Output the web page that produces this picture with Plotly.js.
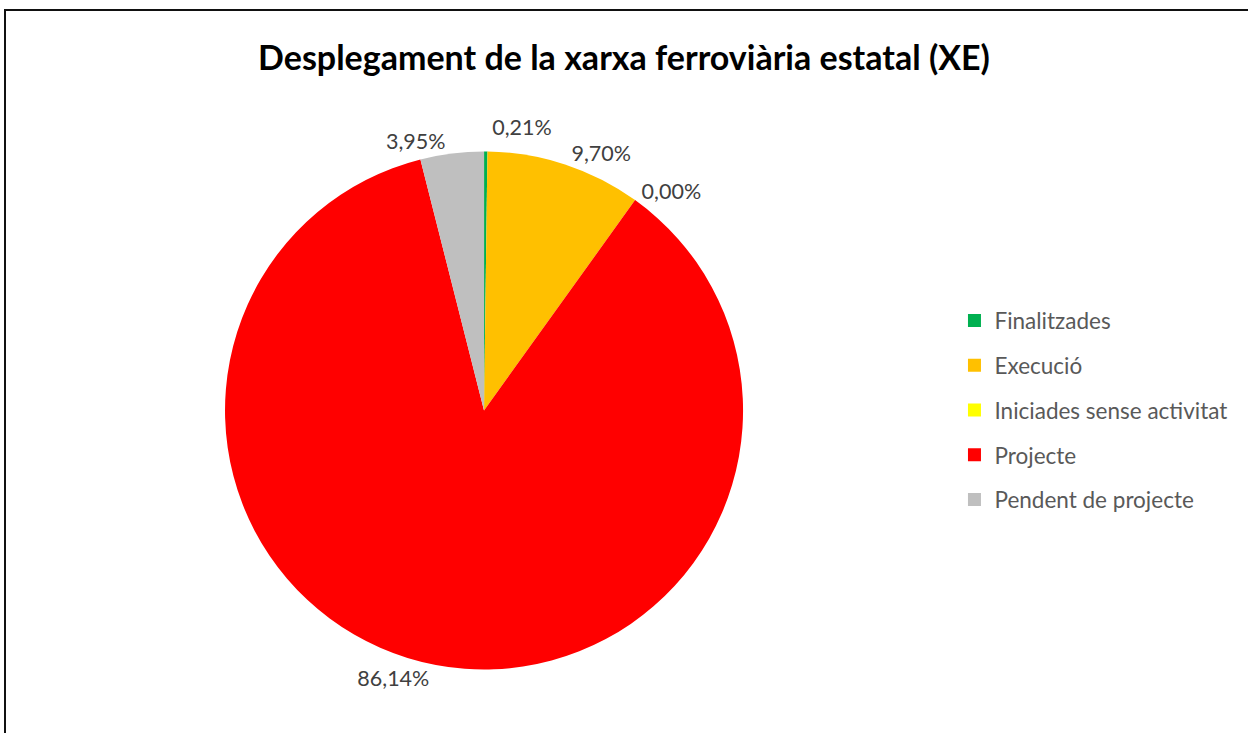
<!DOCTYPE html>
<html>
<head>
<meta charset="utf-8">
<script src="https://cdn.plot.ly/plotly-3.0.1.min.js"></script>
<style>
  body { margin: 0; overflow: hidden; background: #fff; }
  #plot { position: absolute; left: 0; top: 0; width: 1248px; height: 733px; }
  #frame { position: absolute; left: 4px; top: 9px; width: 1400px; height: 900px;
           border: 2px solid #111; pointer-events: none; }
  /* the reference has no leader lines on the outside labels */
  #plot path.textline { display: none; }
</style>
</head>
<body>
<div id="plot"></div>
<div id="frame"></div>
<script>
// Categories and shares (%)
let categories = ["Finalitzades", "Execució", "Iniciades sense activitat", "Projecte", "Pendent de projecte"]
let shares = [0.21, 9.70, 0.00, 86.14, 3.95]
let colors = ["#00B050", "#FFC000", "#FFFF00", "#FF0000", "#BFBFBF"]

let font = "Lato, 'Open Sans', sans-serif"

// Pie itself, legend drawn with dummy traces so the row spacing can match
let pie = {
  type: "pie",
  labels: categories,
  values: shares,
  sort: false,
  direction: "clockwise",
  rotation: 0,
  marker: { colors: colors, line: { width: 0 } },
  textposition: "outside",
  texttemplate: "%{percent:.2%}",
  outsidetextfont: { family: font, size: 21.5, color: "#404040" },
  hoverinfo: "label+percent",
  showlegend: false,
  domain: { x: [0.1803, 0.5954], y: [0.03, 0.85] }
}

let data = [pie]
for (let i = 0; i < categories.length; i++) {
  data.push({
    type: "scatter",
    mode: "markers",
    x: [null],
    y: [null],
    name: categories[i],
    legendgroup: "g" + i,
    marker: { symbol: "square", size: 13, color: colors[i] },
    hoverinfo: "skip"
  })
}

let layout = {
  width: 1248,
  height: 733,
  separators: ",.",
  title: {
    text: "<b>Desplegament de la xarxa ferroviària estatal (XE)</b>",
    font: { family: font, size: 34, color: "#000" },
    x: 0.5,
    xanchor: "center",
    y: 0.921,
    yanchor: "middle"
  },
  showlegend: true,
  legend: {
    x: 0.7648,
    y: 0.44,
    xanchor: "left",
    yanchor: "middle",
    traceorder: "grouped",
    tracegroupgap: 12.5,
    font: { family: font, size: 22.5, color: "#595959" },
    itemclick: false
  },
  xaxis: { visible: false, range: [0, 1] },
  yaxis: { visible: false, range: [0, 1] },
  margin: { l: 0, r: 0, t: 0, b: 0 },
  paper_bgcolor: "#fff",
  plot_bgcolor: "rgba(0,0,0,0)"
}

Plotly.newPlot("plot", data, layout, { displayModeBar: false, staticPlot: true })
</script>
</body>
</html>
